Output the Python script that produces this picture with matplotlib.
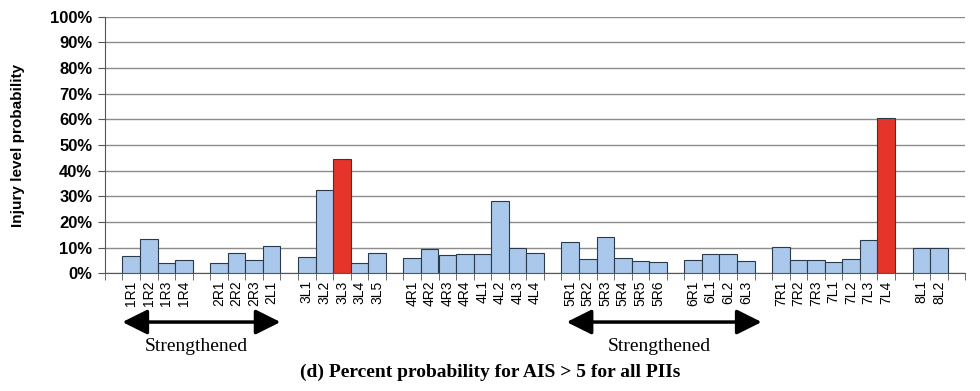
import matplotlib
matplotlib.use('Agg')
import numpy as np
import matplotlib.pyplot as plt

# bar labels per group and percent values
groups = [
    ['1R1', '1R2', '1R3', '1R4'],
    ['2R1', '2R2', '2R3', '2L1'],
    ['3L1', '3L2', '3L3', '3L4', '3L5'],
    ['4R1', '4R2', '4R3', '4R4', '4L1', '4L2', '4L3', '4L4'],
    ['5R1', '5R2', '5R3', '5R4', '5R5', '5R6'],
    ['6R1', '6L1', '6L2', '6L3'],
    ['7R1', '7R2', '7R3', '7L1', '7L2', '7L3', '7L4'],
    ['8L1', '8L2'],
]
values = [
    [6.7, 13.5, 4.1, 5.0],
    [4.1, 8.1, 5.0, 10.6],
    [6.5, 32.3, 44.5, 3.9, 7.9],
    [6.1, 9.3, 7.1, 7.6, 7.4, 28.1, 9.8, 7.9],
    [12.3, 5.5, 14.1, 5.8, 4.8, 4.4],
    [5.0, 7.7, 7.7, 4.8],
    [10.1, 5.0, 5.2, 4.4, 5.5, 12.9, 60.4],
    [9.7, 9.7],
]
highlight = ['3L3', '7L4']
yticks = list(range(0, 101, 10))

blue = '#a9c8eb'
red = '#e5342a'

# lay out slots: one empty slot before each group and at the end
pos, labels, vals = [], [], []
slot = 0
for g, v in zip(groups, values):
    slot += 1
    for lab, val in zip(g, v):
        pos.append(slot)
        labels.append(lab)
        vals.append(val)
        slot += 1
nslots = slot + 1

fig = plt.figure(figsize=(9.8, 3.91), dpi=100)
ax = fig.add_axes([0.107, 0.301, 0.878, 0.656])

colors = [red if l in highlight else blue for l in labels]
ax.bar(pos, vals, width=1.0, color=colors, edgecolor='#2b3a4a', linewidth=0.8, zorder=3)

ax.set_xlim(-0.5, nslots - 0.5)
ax.set_ylim(0, 100)
ax.set_yticks(yticks)
ax.set_yticklabels(['%d%%' % t for t in yticks], fontweight='bold', fontsize=12,
                   family='Liberation Sans')
ax.yaxis.grid(True, color='#8c8c8c', linewidth=1.0, zorder=0)

ax.set_xticks(pos)
ax.set_xticklabels(labels, rotation=90, fontsize=10, family='Liberation Sans')
ax.tick_params(axis='x', which='major', length=0, pad=5)
ax.set_xticks(np.arange(-0.5, nslots, 1.0), minor=True)
ax.tick_params(axis='x', which='minor', length=5, color='#555555')
ax.tick_params(axis='y', length=5, color='#555555', pad=4)

for s in ['top', 'right']:
    ax.spines[s].set_visible(False)
ax.spines['left'].set_color('#555555')
ax.spines['bottom'].set_color('#555555')

ax.set_ylabel('Injury level probability', fontweight='bold', fontsize=11,
              family='Liberation Sans', labelpad=18)

# strengthened arrows
arrow_spans = [(0.5, 9.5), (25.8, 36.9)]
for x0, x1 in arrow_spans:
    ax.annotate('', xy=(x0, -0.19), xytext=(x1, -0.19),
                xycoords=('data', 'axes fraction'), textcoords=('data', 'axes fraction'),
                arrowprops=dict(arrowstyle='<|-|>', color='black', lw=2.5,
                                mutation_scale=38, shrinkA=0, shrinkB=0),
                annotation_clip=False)
    ax.text((x0 + x1) / 2 - 0.3, -0.285, 'Strengthened', transform=ax.get_xaxis_transform(),
            ha='center', va='center', fontsize=14, family='Liberation Serif')

fig.text(0.5, 0.048, '(d) Percent probability for AIS > 5 for all PIIs', ha='center',
         va='center', fontsize=14, fontweight='bold', family='Liberation Serif')

fig.savefig('out.png', dpi=100)
